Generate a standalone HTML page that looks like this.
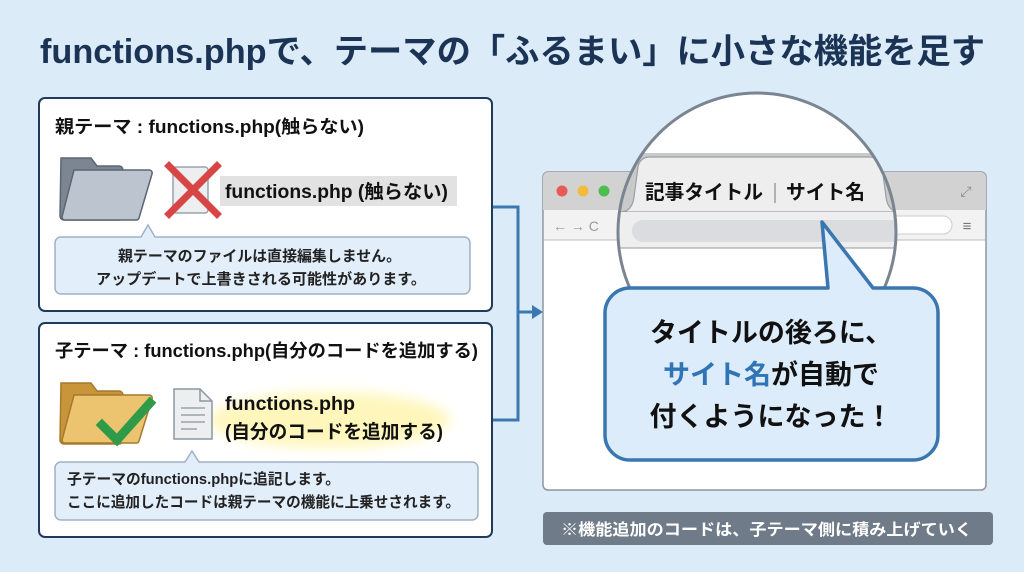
<!DOCTYPE html>
<html><head><meta charset="utf-8"><style>
html,body{margin:0;padding:0;background:#dcebf8;}
svg{display:block;}
text{font-family:"Liberation Sans","Noto Sans CJK JP",sans-serif;}
</style></head><body>
<svg width="1024" height="572" viewBox="0 0 1024 572" xmlns="http://www.w3.org/2000/svg">
<defs>
<filter id="glow" x="-20%" y="-50%" width="140%" height="200%"><feGaussianBlur stdDeviation="6"/></filter>
<clipPath id="circ"><circle cx="757" cy="232" r="139"/></clipPath>
</defs>
<rect width="1024" height="572" fill="#dcebf8"/>
<text x="40" y="63" font-size="34" font-weight="bold" fill="#1b3354" textLength="945" lengthAdjust="spacingAndGlyphs">functions.phpで、テーマの「ふるまい」に小さな機能を足す</text>

<!-- connectors -->
<g fill="none" stroke="#3b78b0" stroke-width="3">
<path d="M492 207 H518 V420 H492"/>
<path d="M518 312 H534"/>
</g>
<path d="M543 312 L532 305 L532 319 Z" fill="#3b78b0"/>

<!-- Box 1 -->
<rect x="39" y="98" width="453" height="213" rx="6" fill="#fff" stroke="#1f3a5a" stroke-width="2"/>
<text x="55" y="133" font-size="18" font-weight="bold" fill="#111" textLength="309" lengthAdjust="spacingAndGlyphs">親テーマ : functions.php(触らない)</text>
<path d="M61 158 h30 l6 8 h22 a4 4 0 0 1 4 4 v46 a4 4 0 0 1 -4 4 h-55 a4 4 0 0 1 -4 -4 Z" fill="#7c8692" stroke="#5c6673" stroke-width="1.5"/>
<path d="M74 170 h75 a3 3 0 0 1 3 4 l-13 44 a3 3 0 0 1 -3 2 h-71 a3 3 0 0 1 -3 -3 Z" fill="#bcc5cf" stroke="#5c6673" stroke-width="1.5"/>
<rect x="173" y="167" width="35" height="46" rx="3" fill="#eceef0" stroke="#9aa2ab" stroke-width="1.5"/>
<path d="M169 166 L217 214 M217 166 L169 214" stroke="#d84545" stroke-width="7" stroke-linecap="square"/>
<rect x="220" y="176" width="237" height="30" fill="#e2e2e2"/>
<text x="225" y="198" font-size="19" font-weight="bold" fill="#111" textLength="223" lengthAdjust="spacingAndGlyphs">functions.php (触らない)</text>
<path d="M61 237 H141 L148 225 L155 237 H464 a6 6 0 0 1 6 6 V288 a6 6 0 0 1 -6 6 H61 a6 6 0 0 1 -6 -6 V243 a6 6 0 0 1 6 -6 Z" fill="#e2effa" stroke="#9fb1c3" stroke-width="1.5"/>
<text x="118" y="261" font-size="15" font-weight="bold" fill="#222" textLength="283" lengthAdjust="spacingAndGlyphs">親テーマのファイルは直接編集しません。</text>
<text x="96" y="284" font-size="15" font-weight="bold" fill="#222" textLength="330" lengthAdjust="spacingAndGlyphs">アップデートで上書きされる可能性があります。</text>

<!-- Box 2 -->
<rect x="39" y="323" width="453" height="214" rx="6" fill="#fff" stroke="#1f3a5a" stroke-width="2"/>
<text x="55" y="357" font-size="18" font-weight="bold" fill="#111" textLength="423" lengthAdjust="spacingAndGlyphs">子テーマ : functions.php(自分のコードを追加する)</text>
<path d="M61 383 h30 l6 8 h22 a4 4 0 0 1 4 4 v45 a4 4 0 0 1 -4 4 h-55 a4 4 0 0 1 -4 -4 Z" fill="#c9953b" stroke="#a67a2a" stroke-width="1.5"/>
<path d="M74 395 h75 a3 3 0 0 1 3 4 l-13 42 a3 3 0 0 1 -3 2 h-71 a3 3 0 0 1 -3 -3 Z" fill="#ecc470" stroke="#a67a2a" stroke-width="1.5"/>
<path d="M102 425 L117 440 L150 403" fill="none" stroke="#2f9a48" stroke-width="9" stroke-linecap="square"/>
<ellipse cx="330" cy="420" rx="120" ry="28" fill="#fff3a0" opacity="0.7" filter="url(#glow)"/>
<path d="M174 389 h26 l12 12 v38 h-38 Z" fill="#eceef0" stroke="#8c95a0" stroke-width="1.5"/>
<path d="M200 389 v12 h12" fill="none" stroke="#8c95a0" stroke-width="1.5"/>
<g stroke="#9aa2ab" stroke-width="1.5"><path d="M181 408h24M181 415h24M181 422h24M181 429h16"/></g>
<text x="225" y="410" font-size="19" font-weight="bold" fill="#111" textLength="130" lengthAdjust="spacingAndGlyphs">functions.php</text>
<text x="225" y="438" font-size="19" font-weight="bold" fill="#111" textLength="218" lengthAdjust="spacingAndGlyphs">(自分のコードを追加する)</text>
<path d="M61 462 H185 L192 451 L199 462 H472 a6 6 0 0 1 6 6 V514 a6 6 0 0 1 -6 6 H61 a6 6 0 0 1 -6 -6 V468 a6 6 0 0 1 6 -6 Z" fill="#e2effa" stroke="#9fb1c3" stroke-width="1.5"/>
<text x="67" y="484" font-size="15" font-weight="bold" fill="#222" textLength="273" lengthAdjust="spacingAndGlyphs">子テーマのfunctions.phpに追記します。</text>
<text x="67" y="507" font-size="15" font-weight="bold" fill="#222" textLength="393" lengthAdjust="spacingAndGlyphs">ここに追加したコードは親テーマの機能に上乗せされます。</text>

<!-- Browser -->
<rect x="543" y="172" width="443" height="318" rx="5" fill="#fff" stroke="#8f969d" stroke-width="1.5"/>
<path d="M543 210 V177 a5 5 0 0 1 5 -5 H981 a5 5 0 0 1 5 5 V210 Z" fill="#d2d2d2"/>
<rect x="544" y="210" width="441" height="30" fill="#f2f2f2"/>
<line x1="544" y1="240" x2="985" y2="240" stroke="#b9bcc0" stroke-width="1"/>
<circle cx="562" cy="191" r="5.5" fill="#e85a55"/>
<circle cx="583" cy="191" r="5.5" fill="#f2bb3c"/>
<circle cx="604" cy="191" r="5.5" fill="#4bbe4f"/>
<text x="966" y="196" text-anchor="middle" font-size="14" fill="#888">⤢</text>
<text x="553" y="231" font-size="14" fill="#999">← → C</text>
<rect x="880" y="216" width="72" height="18" rx="9" fill="#fff" stroke="#ccc"/>
<text x="967" y="231" text-anchor="middle" font-size="15" fill="#777">≡</text>

<!-- magnifier -->
<g clip-path="url(#circ)">
<rect x="600" y="90" width="320" height="300" fill="#fff"/>
<rect x="600" y="153" width="320" height="60" fill="#c9c9c9"/>
<path d="M620 212 q12 0 14 -15 l4 -30 q2 -10 12 -10 h220 q10 0 12 10 l4 30 q2 15 14 15 Z" fill="#eeeeee" stroke="#9aa0a6" stroke-width="1.2"/>
<rect x="600" y="212" width="320" height="36" fill="#eeeeee"/>
<line x1="600" y1="248" x2="920" y2="248" stroke="#a9adb1" stroke-width="1.2"/>
<rect x="632" y="220" width="300" height="22" rx="11" fill="#dadcdf"/>
</g>
<circle cx="757" cy="232" r="139" fill="none" stroke="#7a8591" stroke-width="3"/>
<text x="645" y="199" font-size="20" font-weight="bold" fill="#111" textLength="118" lengthAdjust="spacingAndGlyphs">記事タイトル</text>
<line x1="775" y1="183" x2="775" y2="203" stroke="#888" stroke-width="1.2"/>
<text x="786" y="199" font-size="20" font-weight="bold" fill="#111" textLength="79" lengthAdjust="spacingAndGlyphs">サイト名</text>

<!-- speech bubble -->
<path d="M630 288 H828 L822 222 L873 288 H913 a25 25 0 0 1 25 25 V435 a25 25 0 0 1 -25 25 H630 a25 25 0 0 1 -25 -25 V313 a25 25 0 0 1 25 -25 Z" fill="#ddecfa" stroke="#3a76b0" stroke-width="3.5" stroke-linejoin="round"/>
<text x="771" y="342" text-anchor="middle" font-size="27" font-weight="bold" fill="#111">タイトルの後ろに、</text>
<text x="771" y="384" text-anchor="middle" font-size="27" font-weight="bold" fill="#111"><tspan fill="#2f74b5">サイト名</tspan>が自動で</text>
<text x="771" y="426" text-anchor="middle" font-size="27" font-weight="bold" fill="#111">付くようになった！</text>

<!-- footer -->
<rect x="543" y="512" width="450" height="33" rx="4" fill="#6f7b88"/>
<text x="561" y="535" font-size="16" font-weight="bold" fill="#fff" textLength="411" lengthAdjust="spacingAndGlyphs">※機能追加のコードは、子テーマ側に積み上げていく</text>
</svg>
</body></html>
